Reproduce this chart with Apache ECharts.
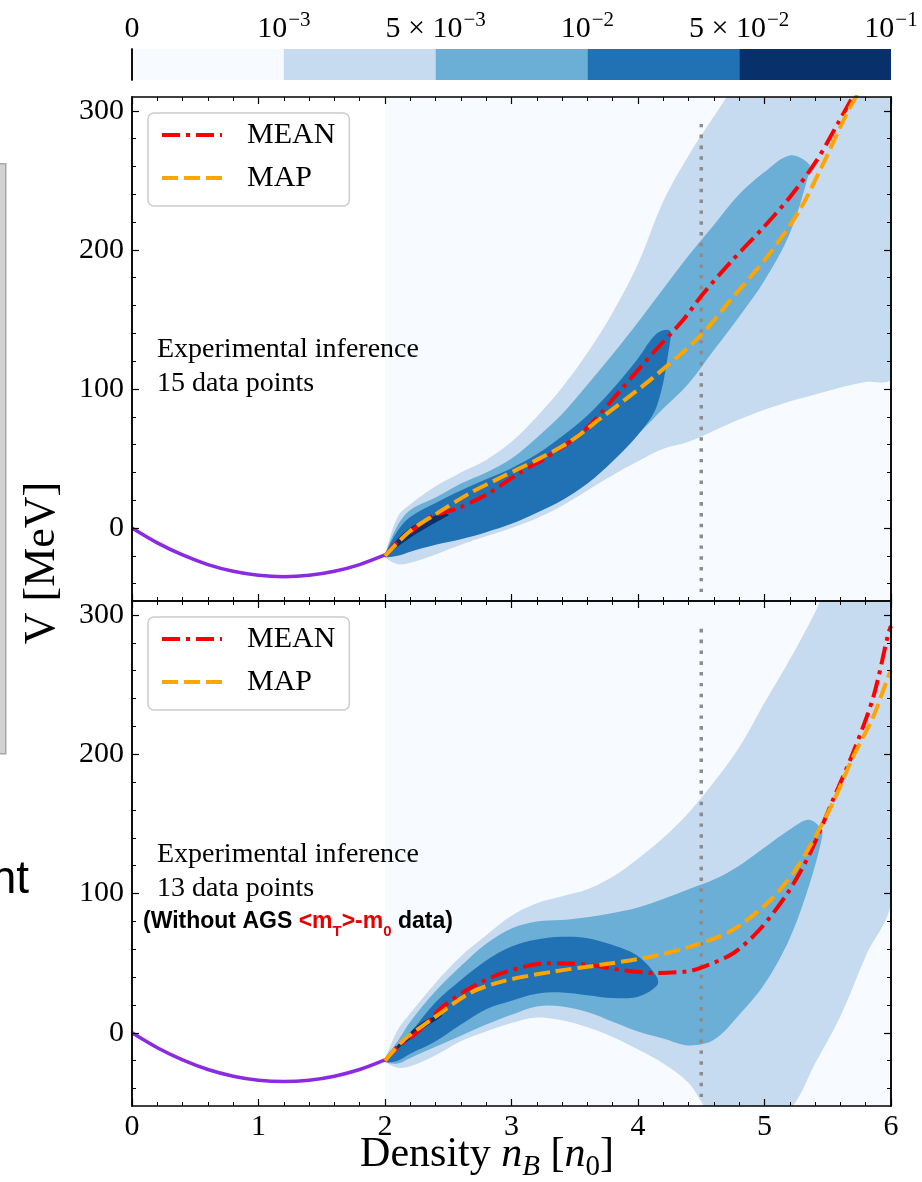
<!DOCTYPE html>
<html>
<head>
<meta charset="utf-8">
<title>V vs density</title>
<script src="https://cdn.jsdelivr.net/npm/echarts@6/dist/echarts.min.js"></script>
<style>
  html, body { margin: 0; padding: 0; background: #fff; }
  #chart { width: 922px; height: 1182px; }
</style>
</head>
<body>
<div id="chart"></div>
<script>
// colour bar levels
const cbColors = ['#f7fbff', '#c6dbef', '#6baed6', '#2171b5', '#08306b'];
const cbBase = ['0', '10', '5 × 10', '10', '5 × 10', '10'];
const cbExp = ['', '−3', '−3', '−2', '−2', '−1'];
const cbWidths = [1, 1, 1, 1, 1];

// tick values
const yMajor = [0, 100, 200, 300];
const yMinor = [-40, -20, 20, 40, 60, 80, 120, 140, 160, 180, 220, 240, 260, 280];

// fixed low density part, same in both panels
const lowX = [0, 0.2, 0.4, 0.6, 0.8, 1.0, 1.2, 1.4, 1.6, 1.8, 2.0];
const lowV = [0, -10.7, -19.4, -26.3, -31.1, -34, -35, -34, -31.1, -26.3, -19.4];

// dotted marker at 4.5 n0
const cutX = [4.5, 4.5];
const cutV = [-46, 295];

// top panel (15 data points)
const topMeanX = [2.0, 2.1, 2.2, 2.36, 2.57, 2.8, 3.07, 3.28, 3.46, 3.62, 3.88, 4.09, 4.36, 4.51, 4.75, 4.99, 5.21, 5.41, 5.58, 5.69, 5.76];
const topMeanV = [-20, -10, -3, 8, 14, 24, 40, 51, 62, 74, 101, 123, 150, 168, 193, 216, 239, 264, 291, 309, 322];
const topMapX = [2.0, 2.2, 2.41, 2.67, 2.93, 3.2, 3.46, 3.72, 4.09, 4.49, 4.75, 5.02, 5.28, 5.49, 5.65, 5.76];
const topMapV = [-20, -2, 10.5, 25, 37, 49, 62, 80, 106, 138, 166, 195, 229, 267, 298, 316];

const topL2X = [2.0, 2.1, 2.2, 2.4, 2.6, 2.8, 3.0, 3.2, 3.4, 3.6, 3.8, 4.0, 4.2, 4.4, 4.6, 4.8, 5.0, 5.2, 5.4, 5.6, 5.8, 6.0];
const topL2Lo = [-21, -26, -25, -19, -12, -6, 0, 7, 16, 27, 38, 48, 57, 62, 70, 78, 85, 91, 96, 101, 105, 108];
const topL2Hi = [-19, 8, 17, 30, 40, 49, 62, 80, 101, 126, 155, 190, 235, 268, 296, 322, 340, 340, 340, 340, 340, 340];
const topL3X = [2.0, 2.1, 2.2, 2.4, 2.6, 2.8, 3.0, 3.2, 3.4, 3.6, 3.8, 4.0, 4.2, 4.4, 4.6, 4.8, 5.0, 5.2, 5.35];
const topL3Lo = [-21, -19, -14, -7, 1, 7, 13, 21, 31, 42, 55, 68, 86, 104, 128, 152, 178, 212, 255];
const topL3Hi = [-19, 2, 13, 22, 32, 40, 50, 65, 82, 103, 125, 148, 172, 196, 218, 240, 256, 268, 262];
const topL4X = [2.0, 2.1, 2.2, 2.4, 2.6, 2.8, 3.0, 3.2, 3.4, 3.6, 3.8, 4.0, 4.15, 4.25];
const topL4Lo = [-21, -20, -17, -12, -8, -3, 3, 11, 20, 32, 48, 67, 88, 132];
const topL4Hi = [-19, -2, 8, 18, 27, 35, 43, 53, 66, 81, 100, 122, 140, 142];
const topL5X = [2.03, 2.12, 2.25, 2.4, 2.5];
const topL5Lo = [-18, -12, -4, 4, 9];
const topL5Hi = [-17, -6, 3, 9, 10];

// bottom panel (13 data points)
const botMeanX = [2.0, 2.1, 2.25, 2.46, 2.67, 2.93, 3.28, 3.59, 3.88, 4.12, 4.38, 4.49, 4.75, 4.96, 5.18, 5.36, 5.54, 5.70, 5.86, 5.98, 6.0];
const botMeanV = [-20, -10, 0, 19, 32, 43, 50, 49, 45, 43, 44, 46.5, 57, 74, 100, 129, 167, 201, 241, 287, 292];
const botMapX = [2.0, 2.15, 2.36, 2.67, 2.93, 3.33, 3.72, 4.12, 4.49, 4.75, 5.02, 5.23, 5.39, 5.54, 5.70, 5.86, 5.98, 6.0];
const botMapV = [-20, -5, 9, 28.5, 37, 44, 49, 55, 64, 74, 93, 115, 139, 165, 198, 227, 256, 260];

const botL2X = [2.0, 2.1, 2.2, 2.4, 2.6, 2.8, 3.0, 3.2, 3.4, 3.6, 3.8, 4.0, 4.2, 4.4, 4.6, 4.8, 5.0, 5.2, 5.4, 5.6, 5.8, 6.0];
const botL2Lo = [-21, -25, -24, -16, -6, 1, 7, 11, 9, 4, -3, -12, -22, -36, -60, -60, -60, -55, -22, 12, 55, 95];
const botL2Hi = [-19, 2, 14, 36, 55, 70, 84, 93, 98, 103, 112, 125, 140, 158, 180, 205, 237, 268, 302, 340, 340, 340];
const botL3X = [2.0, 2.1, 2.2, 2.4, 2.6, 2.8, 3.0, 3.2, 3.4, 3.6, 3.8, 4.0, 4.2, 4.4, 4.6, 4.8, 5.0, 5.2, 5.35, 5.45];
const botL3Lo = [-21, -22, -18, -10, -2, 6, 13, 19, 19, 15, 8, 1, -4, -9, -5, 13, 35, 68, 105, 138];
const botL3Hi = [-19, -6, 8, 30, 48, 64, 75, 80, 81, 83, 86, 90, 96, 103, 110, 120, 133, 146, 153, 146];
const botL4X = [2.0, 2.1, 2.2, 2.4, 2.6, 2.8, 3.0, 3.2, 3.4, 3.6, 3.8, 4.0, 4.15];
const botL4Lo = [-21, -20, -15, -6, 6, 17, 23, 28, 29, 27, 25, 26, 34];
const botL4Hi = [-19, -10, 0, 22, 38, 52, 62, 67, 69, 68, 63, 55, 40];
const botL5X = [2.05, 2.15, 2.3, 2.45];
const botL5Lo = [-15, -8, 3, 12];
const botL5Hi = [-14, -4, 8, 13];

const serif = 'Liberation Serif';
const sans = 'Liberation Sans';
const chart = echarts.init(document.getElementById('chart'));

// one filled density region, lower edge out and upper edge back
function band(grid, xs, lo, hi, color) {
  const rows = xs.map((x, i) => [x, lo[i], hi[i]]);
  return {
    type: 'custom', xAxisIndex: grid * 2, yAxisIndex: grid * 4,
    clip: true, silent: true, data: rows, encode: {x: 0, y: [1, 2]},
    renderItem: function (params, api) {
      if (params.dataIndex !== 0) return null;
      const pts = [];
      for (let i = 0; i < rows.length; i++) pts.push(api.coord([rows[i][0], rows[i][1]]));
      for (let i = rows.length - 1; i >= 0; i--) pts.push(api.coord([rows[i][0], rows[i][2]]));
      return {
        type: 'polygon',
        shape: {points: pts, smooth: rows.length > 2 ? 0.35 : 0},
        style: {fill: color}
      };
    }
  };
}

function curve(grid, name, xs, vs, color, dash, width) {
  return {
    type: 'line', name: name, xAxisIndex: grid * 2, yAxisIndex: grid * 4,
    data: xs.map((x, i) => [x, vs[i]]),
    symbol: 'none', smooth: 0.3, silent: true, clip: true, z: 5,
    lineStyle: {color: color, width: width, type: dash, cap: 'butt'},
    itemStyle: {color: color}
  };
}

function panel(grid, l2, l3, l4, l5, mean, map) {
  return [
    band(grid, [2, 6], [-60, -60], [340, 340], cbColors[0]),
    band(grid, l2[0], l2[1], l2[2], cbColors[1]),
    band(grid, l3[0], l3[1], l3[2], cbColors[2]),
    band(grid, l4[0], l4[1], l4[2], cbColors[3]),
    band(grid, l5[0], l5[1], l5[2], cbColors[4]),
    curve(grid, 'cut', cutX, cutV, '#8c8c8c', [3.5, 7.3], 3.5),
    curve(grid, 'low', lowX, lowV, '#8a2be2', 'solid', 3.5),
    curve(grid, 'MEAN', mean[0], mean[1], '#ff0000', [18, 6, 4, 6], 4),
    curve(grid, 'MAP', map[0], map[1], '#ffa500', [16, 6], 4)
  ];
}

function xAxes(grid, showLabels) {
  const base = {
    gridIndex: grid, type: 'value', min: 0, max: 6, interval: 1, z: 10,
    axisLine: {onZero: false, lineStyle: {color: '#000', width: 1.5}},
    axisTick: {inside: true, length: 7, lineStyle: {color: '#000', width: 1.2}},
    minorTick: {show: true, splitNumber: 5, length: 4, lineStyle: {color: '#000', width: 1}},
    splitLine: {show: false}
  };
  return [
    Object.assign({}, base, {position: 'bottom',
      axisLabel: {show: showLabels, margin: 6, color: '#000', fontFamily: serif, fontSize: 30}}),
    Object.assign({}, base, {position: 'top', axisLabel: {show: false}})
  ];
}

function yAxes(grid) {
  const base = {
    gridIndex: grid, type: 'value', min: -52.5, max: 310, z: 10,
    splitLine: {show: false},
    axisLine: {onZero: false, lineStyle: {color: '#000', width: 1.5}}
  };
  const major = {inside: true, length: 7, customValues: yMajor, lineStyle: {color: '#000', width: 1.2}};
  const minor = {inside: true, length: 4, customValues: yMinor, lineStyle: {color: '#000', width: 1}};
  return [
    Object.assign({}, base, {position: 'left', axisTick: major,
      axisLabel: {customValues: yMajor, margin: 8, color: '#000', fontFamily: serif, fontSize: 30}}),
    Object.assign({}, base, {position: 'right', axisTick: major, axisLabel: {show: false}}),
    Object.assign({}, base, {position: 'left', axisTick: minor, axisLabel: {show: false}}),
    Object.assign({}, base, {position: 'right', axisTick: minor, axisLabel: {show: false}})
  ];
}

const cbSeries = cbWidths.map((w, i) => ({
  type: 'bar', name: 'level' + i, xAxisIndex: 4, yAxisIndex: 8, stack: 'cb',
  data: [w], barWidth: '100%', silent: true, itemStyle: {color: cbColors[i]}
}));

const legends = [113, 617].map(top => ({
  orient: 'vertical', left: 148, top: top, data: ['MEAN', 'MAP'], selectedMode: false,
  itemWidth: 60, itemHeight: 14, itemGap: 11, z: 20,
  itemStyle: {opacity: 0},
  lineStyle: {width: 4, cap: 'butt'},
  textStyle: {fontFamily: serif, fontSize: 30, lineHeight: 32, color: '#000', padding: [0, 0, 0, 20]},
  backgroundColor: 'rgba(255,255,255,0.8)', borderColor: '#cccccc', borderWidth: 1.5,
  borderRadius: 6, padding: [6, 14, 12, 12]
}));

const subRich = {
  k: {fontFamily: sans, fontWeight: 'bold', fontSize: 23, lineHeight: 32, verticalAlign: 'top', fill: '#000'},
  r: {fontFamily: sans, fontWeight: 'bold', fontSize: 23, lineHeight: 32, verticalAlign: 'top', fill: '#e60000'},
  rs: {fontFamily: sans, fontWeight: 'bold', fontSize: 15, lineHeight: 32, verticalAlign: 'top',
       padding: [14, 0, 0, 0], fill: '#e60000'}
};

const xNameRich = {
  a: {fontFamily: serif, fontSize: 42, lineHeight: 66, verticalAlign: 'top', fill: '#000'},
  i: {fontFamily: serif, fontStyle: 'italic', fontSize: 42, lineHeight: 66, verticalAlign: 'top', fill: '#000'},
  ib: {fontFamily: serif, fontStyle: 'italic', fontSize: 29, lineHeight: 66, verticalAlign: 'top',
       padding: [19, 0, 0, 0], fill: '#000'},
  b: {fontFamily: serif, fontSize: 29, lineHeight: 66, verticalAlign: 'top',
      padding: [19, 0, 0, 0], fill: '#000'}
};

const option = {
  animation: false,
  backgroundColor: '#fff',
  grid: [
    {left: 132, top: 97, width: 759, height: 504},
    {left: 132, top: 601, width: 759, height: 505},
    {left: 132, top: 49, width: 759, height: 31}
  ],
  legend: legends,
  xAxis: xAxes(0, false).concat(xAxes(1, true), [
    {gridIndex: 2, type: 'value', min: 0, max: 5, interval: 1, position: 'top', z: 10,
     axisLine: {onZero: false, lineStyle: {color: '#000', width: 1.5}},
     axisTick: {inside: true, length: 6, lineStyle: {color: '#000', width: 1.2}},
     splitLine: {show: false},
     axisLabel: {
       margin: 5, showMinLabel: true, showMaxLabel: true,
       formatter: v => cbExp[v] ? '{n|' + cbBase[v] + '}{s|' + cbExp[v] + '}' : '{n|' + cbBase[v] + '}',
       rich: {
         n: {fontFamily: serif, fontSize: 30, lineHeight: 36, verticalAlign: 'bottom', color: '#000'},
         s: {fontFamily: serif, fontSize: 21, lineHeight: 36, verticalAlign: 'bottom',
             padding: [0, 0, 13, 1], color: '#000'}
       }
     }},
    {gridIndex: 2, type: 'value', min: 0, max: 5, position: 'bottom', z: 10,
     axisLine: {onZero: false, lineStyle: {color: '#000', width: 1.5}},
     axisTick: {show: false}, axisLabel: {show: false}, splitLine: {show: false}}
  ]),
  yAxis: yAxes(0).concat(yAxes(1), [
    {gridIndex: 2, type: 'category', data: ['cb'], position: 'left', z: 10,
     axisLine: {lineStyle: {color: '#000', width: 1.5}}, axisTick: {show: false}, axisLabel: {show: false}},
    {gridIndex: 2, type: 'category', data: ['cb'], position: 'right', z: 10,
     axisLine: {lineStyle: {color: '#000', width: 1.5}}, axisTick: {show: false}, axisLabel: {show: false}}
  ]),
  series: panel(0, [topL2X, topL2Lo, topL2Hi], [topL3X, topL3Lo, topL3Hi], [topL4X, topL4Lo, topL4Hi],
                [topL5X, topL5Lo, topL5Hi], [topMeanX, topMeanV], [topMapX, topMapV])
    .concat(panel(1, [botL2X, botL2Lo, botL2Hi], [botL3X, botL3Lo, botL3Hi], [botL4X, botL4Lo, botL4Hi],
                  [botL5X, botL5Lo, botL5Hi], [botMeanX, botMeanV], [botMapX, botMapV]))
    .concat(cbSeries),
  graphic: [
    {type: 'rect', left: -10, top: 163, shape: {width: 15, height: 590},
     style: {fill: '#d2d2d2', stroke: '#a8a8a8', lineWidth: 1.5}},
    {type: 'text', x: 29, y: 880, style: {text: 'nt', fontFamily: sans, fontSize: 46, fill: '#000', align: 'right', verticalAlign: 'middle'}},
    {type: 'text', x: 157, y: 333, z: 30,
     style: {text: 'Experimental inference\n15 data points', fontFamily: serif, fontSize: 28, lineHeight: 34, fill: '#000'}},
    {type: 'text', x: 157, y: 838, z: 30,
     style: {text: 'Experimental inference\n13 data points', fontFamily: serif, fontSize: 28, lineHeight: 34, fill: '#000'}},
    {type: 'text', x: 143, y: 910, z: 30,
     style: {text: '{k|(Without AGS }{r|<m}{rs|T}{r|>-m}{rs|0}{k| data)}', rich: subRich}},
    {type: 'text', x: 487, y: 1134, z: 30,
     style: {text: '{a|Density }{i|n}{ib|B}{a| [}{i|n}{b|0}{a|]}', rich: xNameRich, align: 'center'}},
    {type: 'text', x: 42, y: 563, rotation: Math.PI / 2, z: 30,
     style: {text: 'V [MeV]', fontFamily: serif, fontSize: 44, fill: '#000', align: 'center', verticalAlign: 'middle'}}
  ]
};

chart.setOption(option);
</script>
</body>
</html>
